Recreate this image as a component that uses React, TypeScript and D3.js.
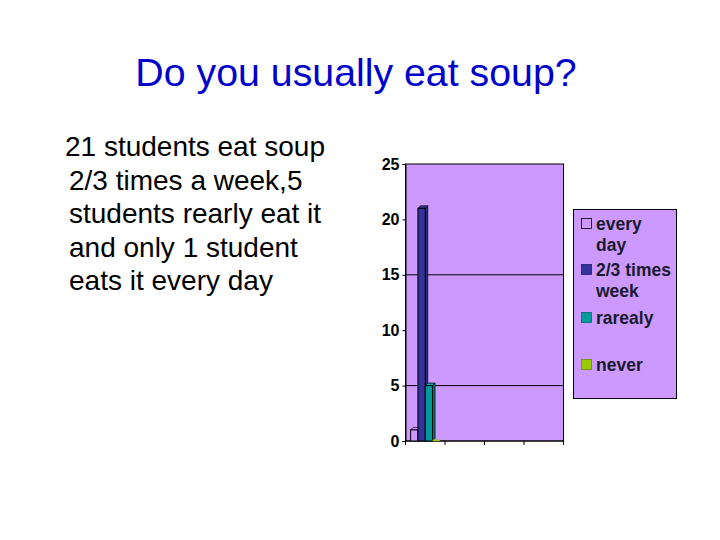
import { useEffect, useRef } from 'react';
import * as d3 from 'd3';

const titleText = 'Do you usually eat soup?';
const bodyLines = [
  '21 students eat soup',
  '2/3 times a week,5',
  'students rearly eat it',
  'and only 1 student',
  'eats it every day',
];

// one filled category, three empty ones as in the slide
const categories = ['c1', 'c2', 'c3', 'c4'];
const seriesNames = ['every day', '2/3 times week', 'rarealy', 'never'];
const seriesValues = [1, 21, 5, 0];
const seriesColors = ['#cc99ff', '#333399', '#009999', '#99cc00'];
const legendLines = [['every', 'day'], ['2/3 times', 'week'], ['rarealy'], ['never']];
const yTicks = [0, 5, 10, 15, 20, 25];
const gridValues = [5, 15];

export default function App() {
  const svgRef = useRef<SVGSVGElement>(null);

  useEffect(() => {
    const svg = d3.select(svgRef.current);
    svg.selectAll('*').remove();
    const font = 'Arial, "Liberation Sans", sans-serif';

    svg.append('text')
      .attr('x', 356).attr('y', 86)
      .attr('text-anchor', 'middle')
      .style('font-family', font).style('font-size', '39.3px')
      .attr('fill', '#0000cc')
      .text(titleText);

    svg.append('g').selectAll('text')
      .data(bodyLines)
      .enter().append('text')
      .attr('x', (d, i) => i === 0 ? 65 : 69)
      .attr('y', (d, i) => 156 + i * 33.5)
      .style('font-family', font).style('font-size', '28px')
      .attr('fill', '#000')
      .text(d => d);

    const left = 405.5, right = 563.5, top = 164, bottom = 441;
    const x = d3.scaleBand().domain(categories).range([left, right]);
    const xs = d3.scaleBand().domain(seriesNames).range([0, x.bandwidth()]).paddingOuter(0.7);
    const y = d3.scaleLinear().domain([0, 25]).range([bottom, top]);

    // plot area
    svg.append('rect')
      .attr('x', left).attr('y', top)
      .attr('width', right - left).attr('height', bottom - top)
      .attr('fill', '#cc99ff').attr('stroke', '#000').attr('stroke-width', 1);

    svg.append('g').selectAll('line')
      .data(gridValues)
      .enter().append('line')
      .attr('x1', left).attr('x2', right)
      .attr('y1', d => y(d)).attr('y2', d => y(d))
      .attr('stroke', '#000').attr('stroke-width', 1);

    // y axis
    const yAxis = svg.append('g').attr('transform', `translate(${left},0)`)
      .call(d3.axisLeft(y).tickValues(yTicks).tickSize(3).tickPadding(3));
    yAxis.select('.domain').attr('stroke', '#000');
    yAxis.selectAll('text')
      .style('font-family', font).style('font-size', '16px').style('font-weight', 'bold')
      .attr('fill', '#000');

    // x axis: tick marks at category boundaries, no labels
    const bounds = categories.map(c => x(c) as number).concat([right]);
    svg.append('line')
      .attr('x1', left).attr('x2', right).attr('y1', bottom).attr('y2', bottom)
      .attr('stroke', '#000');
    svg.append('g').selectAll('line')
      .data(bounds)
      .enter().append('line')
      .attr('x1', d => d).attr('x2', d => d)
      .attr('y1', bottom).attr('y2', bottom + 4)
      .attr('stroke', '#000');

    // 3d-ish bars in the first category
    const depth = 2.5;
    const bars = svg.append('g');
    seriesNames.forEach((name, i) => {
      const v = seriesValues[i];
      const x0 = (x(categories[0]) as number) + (xs(name) as number);
      const w = xs.bandwidth();
      const y0 = y(v);
      const col = seriesColors[i];
      const dark = d3.rgb(col).darker(0.6).toString();
      const bright = d3.rgb(col).brighter(0.3).toString();
      if (v > 0) {
        bars.append('path')
          .attr('d', `M${x0 + w},${y0} l${depth},${-depth} L${x0 + w + depth},${bottom - depth} L${x0 + w},${bottom} Z`)
          .attr('fill', i === 0 ? col : dark).attr('stroke', '#000').attr('stroke-width', 0.7);
        bars.append('path')
          .attr('d', `M${x0},${y0} l${depth},${-depth} l${w},0 l${-depth},${depth} Z`)
          .attr('fill', i === 0 ? col : bright).attr('stroke', '#000').attr('stroke-width', 0.7);
        bars.append('rect')
          .attr('x', x0).attr('y', y0)
          .attr('width', w).attr('height', bottom - y0)
          .attr('fill', col).attr('stroke', '#000').attr('stroke-width', 1);
      } else {
        bars.append('rect')
          .attr('x', x0).attr('y', bottom - 1.5)
          .attr('width', w).attr('height', 1.5)
          .attr('fill', col);
      }
    });

    // legend
    const lg = svg.append('g');
    lg.append('rect')
      .attr('x', 573.5).attr('y', 209.5).attr('width', 103).attr('height', 189)
      .attr('fill', '#cc99ff').attr('stroke', '#000').attr('stroke-width', 1);
    const rowY = [230, 276, 324, 371];
    seriesNames.forEach((name, i) => {
      lg.append('rect')
        .attr('x', 581.5).attr('y', rowY[i] - 11.5)
        .attr('width', 10).attr('height', 10)
        .attr('fill', seriesColors[i])
        .attr('stroke', i === 0 ? '#000' : d3.rgb(seriesColors[i]).darker(1).toString())
        .attr('stroke-width', 0.8);
      legendLines[i].forEach((line, j) => {
        lg.append('text')
          .attr('x', 596).attr('y', rowY[i] + j * 21)
          .style('font-family', font).style('font-size', '17.5px').style('font-weight', 'bold')
          .attr('fill', '#1a1a2e')
          .text(line);
      });
    });
  }, []);

  return (
    <svg
      ref={svgRef}
      width={720}
      height={540}
      style={{ position: 'absolute', left: 0, top: 0, display: 'block', background: '#fff' }}
    />
  );
}
